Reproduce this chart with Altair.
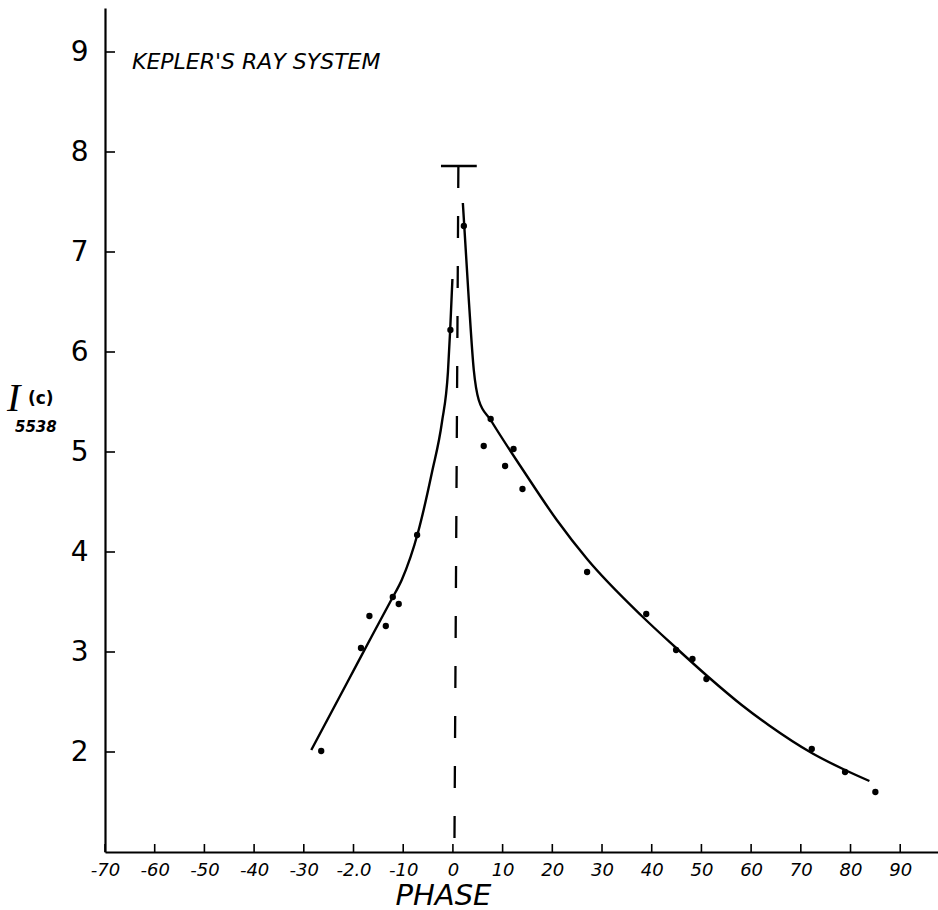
import altair as alt
import pandas as pd

# ---- data ----
left_phase = [-28.5, -21.0, -16.3, -12.3, -10.3, -7.0, -4.2, -2.2, -1.0, -0.55, -0.1]
left_I = [2.02, 2.72, 3.16, 3.53, 3.72, 4.20, 4.80, 5.30, 5.80, 6.22, 6.73]

right_phase = [2.0, 3.2, 4.2, 5.2, 7.6, 14.5, 20.9, 27.0, 38.0, 44.7,
               51.4, 58.1, 63.5, 72.2, 78.9, 83.8]
right_I = [7.49, 6.52, 5.82, 5.52, 5.32, 4.79, 4.32, 3.93, 3.36, 3.05,
           2.75, 2.47, 2.27, 1.99, 1.82, 1.71]

pt_phase = [-26.5, -18.5, -16.8, -13.5, -12.1, -10.9, -7.2, -0.5, 2.2, 6.2, 7.6,
            10.5, 12.2, 14.0, 27.0, 38.9, 44.9, 48.2, 51.0, 72.2, 78.9, 85.0]
pt_I = [2.01, 3.04, 3.36, 3.26, 3.55, 3.48, 4.17, 6.22, 7.26, 5.06, 5.33,
        4.86, 5.03, 4.63, 3.80, 3.38, 3.02, 2.93, 2.73, 2.03, 1.80, 1.60]

x_ticks = [-70, -60, -50, -40, -30, -20, -10, 0, 10, 20, 30, 40, 50, 60, 70, 80, 90]
y_ticks = [2, 3, 4, 5, 6, 7, 8, 9]

marker_bar_x = [-2.4, 4.8]
marker_top = 7.86
dash_x_top, dash_x_bottom, dash_bottom = 1.1, 0.3, 1.0

x_domain = [-70, 97.6]
y_domain = [1, 9.44]

W, H = 833, 844

curves = pd.DataFrame({
    "phase": left_phase + right_phase,
    "I": left_I + right_I,
    "branch": ["left"] * len(left_phase) + ["right"] * len(right_phase),
    "order": list(range(len(left_phase))) + list(range(len(right_phase))),
})
points = pd.DataFrame({"phase": pt_phase, "I": pt_I})
xt = pd.DataFrame({"v": x_ticks})
yt = pd.DataFrame({"v": y_ticks})
one = pd.DataFrame({"a": [0]})

xs = alt.Scale(domain=x_domain, nice=False, zero=False)
ys = alt.Scale(domain=y_domain, nice=False, zero=False)

FONT = "DejaVu Sans"

x_axis = alt.Axis(
    values=x_ticks, ticks=False, grid=False, domainColor="black", domainWidth=2.2,
    labelFont=FONT, labelFontSize=18, labelFontStyle="italic", labelColor="black",
    labelPadding=9, labelOverlap=False, labelFlush=False,
    labelExpr="datum.value == -20 ? '-2.0' : (datum.value < 0 ? '-' + abs(datum.value) : '' + datum.value)",
    title="PHASE", titleFont=FONT, titleFontSize=29, titleFontStyle="italic",
    titleFontWeight="normal", titleColor="black", titleX=338, titleY=43,
    titleBaseline="middle", titleAlign="center",
)
y_axis = alt.Axis(
    values=y_ticks, ticks=False, grid=False, domainColor="black", domainWidth=2.2,
    labelFont=FONT, labelFontSize=28, labelColor="black", labelPadding=17,
    format="d", labelOverlap=False, labelFlush=False,
    title=None,
)

base_axes = alt.Chart(points).mark_point(opacity=0).encode(
    x=alt.X("phase:Q", scale=xs, axis=x_axis),
    y=alt.Y("I:Q", scale=ys, axis=y_axis),
)

lines = alt.Chart(curves).mark_line(color="black", strokeWidth=2.4, interpolate="monotone").encode(
    x=alt.X("phase:Q", scale=xs),
    y=alt.Y("I:Q", scale=ys),
    detail="branch:N",
    order="order:Q",
)

dots = alt.Chart(points).mark_circle(color="black", size=40, opacity=1).encode(
    x=alt.X("phase:Q", scale=xs),
    y=alt.Y("I:Q", scale=ys),
)

xtick_marks = alt.Chart(xt).mark_rule(color="black", strokeWidth=1.6).encode(
    x=alt.X("v:Q", scale=xs),
    y=alt.value(H),
    y2=alt.value(H - 8),
)
ytick_marks = alt.Chart(yt).mark_rule(color="black", strokeWidth=1.6).encode(
    y=alt.Y("v:Q", scale=ys),
    x=alt.value(0),
    x2=alt.value(10),
)

bar_df = pd.DataFrame({"x1": [marker_bar_x[0]], "x2": [marker_bar_x[1]], "y": [marker_top]})
tbar = alt.Chart(bar_df).mark_rule(color="black", strokeWidth=2.5).encode(
    x=alt.X("x1:Q", scale=xs), x2="x2:Q", y=alt.Y("y:Q", scale=ys)
)
dash_df = pd.DataFrame({"x1": [dash_x_top], "x2": [dash_x_bottom],
                        "y1": [marker_top], "y2": [dash_bottom]})
dashed = alt.Chart(dash_df).mark_rule(color="black", strokeWidth=2.3, strokeDash=[22, 28]).encode(
    x=alt.X("x1:Q", scale=xs), x2="x2:Q",
    y=alt.Y("y1:Q", scale=ys), y2="y2:Q",
)

title_txt = alt.Chart(one).mark_text(
    text="KEPLER'S RAY SYSTEM", font=FONT, fontSize=22, fontStyle="italic",
    align="left", baseline="middle", color="black",
).encode(x=alt.value(27), y=alt.value(54))

i_txt = alt.Chart(one).mark_text(
    text="I", font="Liberation Serif", fontSize=40, fontStyle="italic",
    align="left", baseline="alphabetic", color="black",
).encode(x=alt.value(-98), y=alt.value(403))
c_txt = alt.Chart(one).mark_text(
    text="(c)", font=FONT, fontSize=17, fontWeight="bold",
    align="left", baseline="alphabetic", color="black",
).encode(x=alt.value(-77), y=alt.value(396))
n_txt = alt.Chart(one).mark_text(
    text="5538", font=FONT, fontSize=15, fontStyle="italic", fontWeight="bold",
    align="left", baseline="alphabetic", color="black",
).encode(x=alt.value(-90), y=alt.value(424))

chart = alt.layer(
    base_axes, lines, dots, xtick_marks, ytick_marks, tbar, dashed,
    title_txt, i_txt, c_txt, n_txt,
).properties(
    width=W, height=H,
    autosize=alt.AutoSizeParams(type="none"),
    padding={"left": 105, "top": 8, "right": 0, "bottom": 58},
    background="white",
).configure_view(stroke=None)

chart.save("out.html", embed_options={"renderer": "svg", "actions": False})
